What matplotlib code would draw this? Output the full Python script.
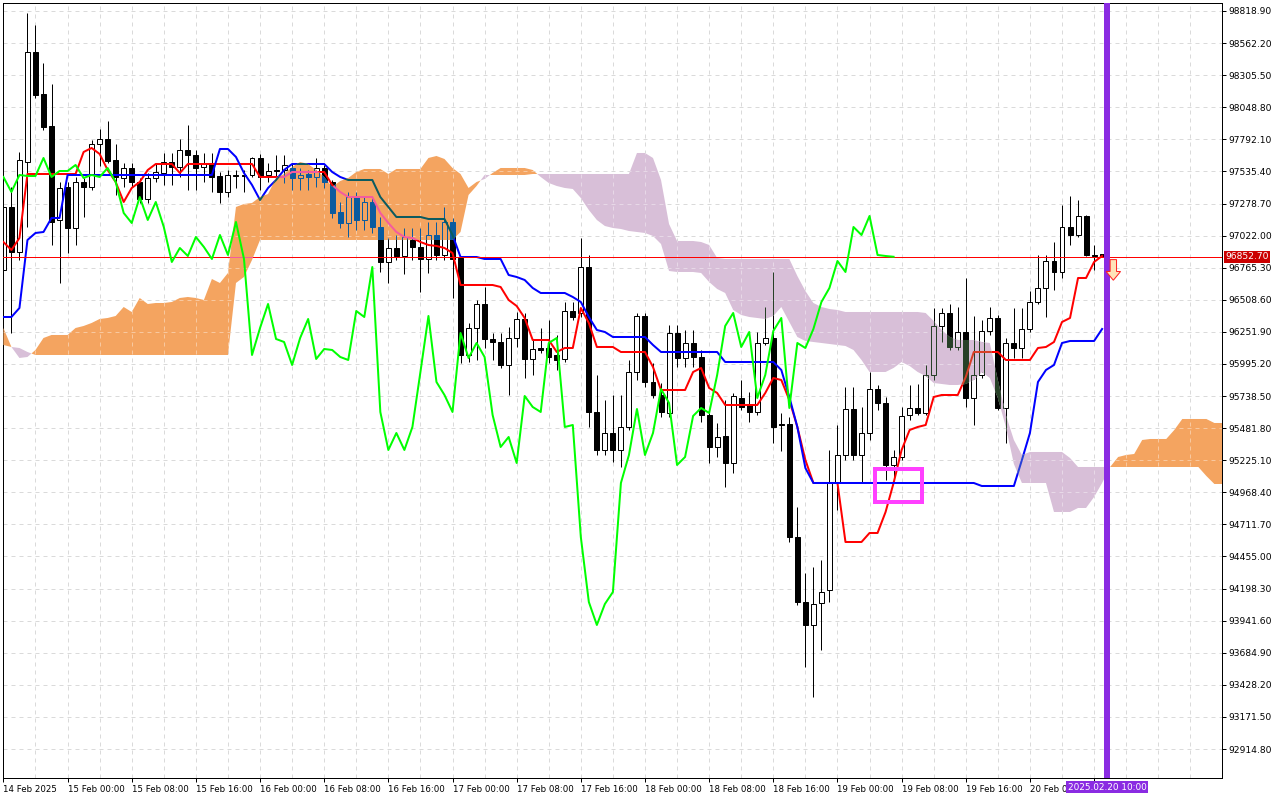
import numpy as np
import matplotlib
matplotlib.use("Agg")
import matplotlib.pyplot as plt
from matplotlib.colors import to_hex
from matplotlib.path import Path
from matplotlib.patches import Rectangle, Polygon

# BTCUSD H1, bar 0 = 14 Feb 2025 16:00 ... bar 137 = 20 Feb 2025 09:00
opens = [
    96747, 97251, 96891, 97611, 98491, 98155, 97899, 97147, 97411, 97083,
    97451, 97411, 97755, 97795, 97627, 97483, 97563, 97451, 97315, 97483,
    97523, 97611, 97571, 97707, 97667, 97571, 97603, 97499, 97371, 97507,
    97507, 97507, 97643, 97507, 97547, 97547, 97563, 97483, 97515, 97491,
    97563, 97451, 97211, 97123, 97331, 97147, 97291, 97091, 96811, 96923,
    96859, 96987, 96931, 96835, 97027, 96867, 97131, 96843, 96067, 96283,
    96475, 96195, 96171, 95987, 96203, 96355, 96035, 96123, 96123, 96067,
    96035, 96419, 96403, 96771, 95611, 95307, 95443, 95307, 95491, 95931,
    96379, 95851, 95747, 95603, 96243, 96043, 96163, 96051, 95587, 95331,
    95419, 95203, 95723, 95667, 95611, 96163, 96203, 95515, 95515, 94611,
    94091, 93907, 94083, 94187, 95043, 95267, 95635, 95267, 95443, 95795,
    95683, 95187, 95251, 95587, 95643, 95603, 95907, 96299, 96403, 96131,
    96251, 95723, 95907, 96259, 96363, 95643, 96163, 96123, 96275, 96491,
    96603, 96819, 96731, 97091, 97027, 97179, 96867, 96875,
]
highs = [
    97347, 97411, 97691, 98803, 98707, 98403, 98235, 97451, 97451, 97491,
    97483, 97787, 97875, 97939, 97755, 97603, 97603, 97483, 97523, 97603,
    97683, 97683, 97795, 97907, 97707, 97683, 97683, 97531, 97547, 97547,
    97547, 97651, 97675, 97603, 97667, 97667, 97603, 97563, 97547, 97643,
    97587, 97467, 97291, 97371, 97371, 97331, 97323, 97171, 97003, 97027,
    97083, 97083, 97083, 97131, 97131, 97251, 97163, 96851, 96323, 96507,
    96611, 96243, 96243, 96291, 96411, 96403, 96187, 96283, 96347, 96227,
    96491, 96491, 97003, 96867, 95907, 95707, 95747, 95747, 96027, 96403,
    96403, 96003, 95843, 96307, 96307, 96267, 96267, 96107, 95603, 95523,
    95707, 95763, 95867, 95771, 96251, 96451, 96731, 95603, 95571, 94851,
    94323, 94371, 94427, 95307, 95507, 95811, 95811, 95651, 95931, 95827,
    95731, 95307, 95651, 95827, 95835, 95987, 96443, 96443, 96475, 96451,
    96683, 96379, 96347, 96451, 96387, 96203, 96443, 96443, 96579, 96867,
    96867, 96971, 97267, 97339, 97307, 97187, 96947, 96875,
]
lows = [
    96587, 96243, 96827, 97091, 98123, 97867, 96947, 96643, 96883, 96947,
    97171, 97387, 97579, 97603, 97347, 97411, 97411, 97283, 97283, 97451,
    97427, 97427, 97491, 97387, 97387, 97451, 97371, 97283, 97331, 97403,
    97371, 97491, 97387, 97451, 97491, 97443, 97387, 97387, 97387, 97411,
    97403, 97163, 97083, 97011, 97067, 97067, 97043, 96731, 96643, 96827,
    96715, 96827, 96571, 96723, 96827, 96827, 96523, 96003, 96011, 96027,
    96123, 96027, 95963, 95747, 96131, 95883, 95907, 96083, 96003, 95947,
    96011, 96347, 96371, 95491, 95267, 95267, 95211, 95171, 95467, 95867,
    95811, 95723, 95571, 95571, 95971, 95971, 95971, 95531, 95203, 95251,
    95011, 95123, 95627, 95531, 95587, 96147, 95363, 95299, 94571, 94067,
    93571, 93331, 93707, 94091, 94827, 95227, 95227, 95043, 95387, 95627,
    95067, 95067, 95227, 95547, 95587, 95587, 95867, 96171, 96107, 96107,
    95651, 95507, 95883, 96227, 95627, 95363, 96043, 96043, 96251, 96475,
    96371, 96587, 96683, 96947, 97011, 96859, 96747, 96851,
]
closes = [
    97251, 96891, 97627, 98491, 98147, 97891, 97131, 97403, 97083, 97451,
    97411, 97755, 97795, 97619, 97491, 97563, 97451, 97315, 97483, 97531,
    97611, 97571, 97707, 97667, 97563, 97603, 97491, 97371, 97507, 97499,
    97499, 97643, 97491, 97539, 97539, 97587, 97483, 97507, 97491, 97563,
    97451, 97203, 97123, 97331, 97147, 97291, 97091, 96811, 96923, 96859,
    97011, 96931, 96835, 97027, 96867, 97131, 96835, 96067, 96283, 96475,
    96195, 96171, 95987, 96203, 96355, 96035, 96115, 96107, 96051, 96027,
    96419, 96371, 96771, 95611, 95307, 95443, 95307, 95491, 95931, 96379,
    95851, 95747, 95611, 96243, 96043, 96163, 96051, 95587, 95331, 95411,
    95203, 95739, 95651, 95611, 96163, 96203, 95491, 95507, 94611, 94091,
    93907, 94075, 94171, 95043, 95267, 95635, 95267, 95443, 95795, 95683,
    95187, 95251, 95579, 95643, 95603, 95907, 96299, 96403, 96131, 96251,
    95723, 95907, 96259, 96363, 95643, 96163, 96123, 96275, 96491, 96603,
    96819, 96731, 97091, 97027, 97179, 96867, 96859, 96852.70,
]
last_price = 96852.70

# Ichimoku Kinko Hyo (9, 26, 52) as the terminal drew it
tenkan = [
    96971, 96907, 97003, 97515, 97515, 97515, 97515, 97515, 97515, 97515,
    97691, 97723, 97675, 97547, 97451, 97291, 97403, 97451, 97547, 97595,
    97595, 97595, 97523, 97595, 97595, 97595, 97595, 97595, 97595, 97595,
    97595, 97595, 97491, 97491, 97491, 97491, 97531, 97531, 97531, 97531,
    97531, 97427, 97371, 97331, 97331, 97331, 97331, 97203, 97123, 97051,
    97011, 97003, 96971, 96947, 96939, 96923, 96883, 96627, 96627, 96627,
    96627, 96627, 96611, 96507, 96459, 96363, 96187, 96187, 96187, 96091,
    96123, 96123, 96443, 96323, 96131, 96131, 96131, 96091, 96091, 96091,
    96091, 95971, 95787, 95787, 95787, 95787, 95931, 95963, 95803, 95763,
    95667, 95667, 95667, 95667, 95667, 95763, 95883, 95867, 95707, 95491,
    95227, 95043, 95043, 95043, 95043, 94571, 94571, 94571, 94643, 94643,
    94811, 95043, 95307, 95467, 95491, 95507, 95731, 95747, 95747, 95747,
    95891, 96091, 96091, 96091, 96091, 96027, 96027, 96027, 96027, 96123,
    96131, 96171, 96331, 96363, 96683, 96683, 96811, 96859,
]
kijun = [
    96371, 96371, 96443, 96987, 97043, 97051, 97163, 97163, 97507, 97507,
    97507, 97507, 97507, 97507, 97507, 97507, 97507, 97507, 97507, 97507,
    97507, 97507, 97507, 97507, 97507, 97507, 97507, 97715, 97715, 97651,
    97523, 97427, 97307, 97403, 97467, 97547, 97595, 97595, 97595, 97595,
    97595, 97531, 97491, 97467, 97467, 97467, 97467, 97331, 97251, 97171,
    97171, 97171, 97171, 97155, 97155, 97155, 97027, 96851, 96851, 96851,
    96835, 96835, 96835, 96707, 96691, 96667, 96603, 96563, 96563, 96563,
    96563, 96531, 96491, 96371, 96267, 96251, 96211, 96211, 96211, 96211,
    96211, 96147, 96091, 96091, 96091, 96091, 96091, 96091, 96091, 96091,
    96011, 96011, 96011, 96011, 96011, 96011, 96011, 95947, 95731, 95491,
    95163, 95043, 95043, 95043, 95043, 95043, 95043, 95043, 95043, 95043,
    95043, 95043, 95043, 95043, 95043, 95043, 95043, 95043, 95043, 95043,
    95043, 95043, 95019, 95019, 95019, 95019, 95019, 95227, 95443, 95851,
    95947, 95987, 96163, 96179, 96179, 96179, 96179, 96275,
]
# senkou spans, already shifted 26 bars ahead (index 0..152)
span_a = [
    96283, 96131, 96043, 96051, 96107, 96203, 96227, 96227, 96227, 96283,
    96299, 96323, 96355, 96363, 96379, 96451, 96411, 96523, 96475, 96483,
    96483, 96491, 96523, 96531, 96523, 96507, 96675, 96643, 96723, 97251,
    97275, 97283, 97331, 97355, 97483, 97515, 97571, 97611, 97595, 97547,
    97491, 97411, 97459, 97483, 97531, 97555, 97555, 97555, 97515, 97555,
    97555, 97555, 97555, 97643, 97659, 97635, 97563, 97515, 97403, 97451,
    97475, 97523, 97563, 97563, 97563, 97563, 97547, 97491, 97443, 97419,
    97403, 97395, 97323, 97227, 97147, 97099, 97083, 97075, 97059, 97051,
    97043, 97019, 96955, 96739, 96731, 96731, 96731, 96723, 96651, 96595,
    96563, 96427, 96387, 96371, 96363, 96355, 96379, 96451, 96331, 96211,
    96179, 96171, 96163, 96155, 96147, 96139, 96107, 96027, 95931, 95931,
    95931, 95963, 96011, 95979, 95931, 95899, 95843, 95835, 95827, 95827,
    95835, 95867, 95931, 95883, 95723, 95491, 95195, 95043, 95043, 95043,
    95043, 94811, 94811, 94811, 94843, 94843, 94931, 95043, 95171, 95251,
    95267, 95275, 95387, 95395, 95395, 95395, 95467, 95555, 95555, 95555,
    95555, 95523, 95523,
]
span_b = [
    96147, 96131, 96123, 96091, 96067, 96067, 96067, 96067, 96067, 96067,
    96067, 96067, 96067, 96067, 96067, 96067, 96067, 96067, 96067, 96067,
    96067, 96067, 96067, 96067, 96067, 96067, 96067, 96067, 96067, 96643,
    96691, 96827, 96987, 96987, 96987, 96987, 96987, 96987, 96987, 96987,
    96987, 96987, 96987, 96987, 96987, 96987, 96987, 96987, 96987, 96987,
    96987, 96987, 96987, 96987, 96987, 96987, 96987, 97051, 97347, 97419,
    97507, 97507, 97507, 97507, 97507, 97507, 97515, 97515, 97515, 97515,
    97515, 97515, 97515, 97515, 97515, 97515, 97515, 97515, 97515, 97683,
    97683, 97643, 97467, 97115, 96979, 96979, 96979, 96971, 96947, 96843,
    96835, 96835, 96835, 96835, 96835, 96835, 96835, 96835, 96835, 96699,
    96579, 96483, 96451, 96435, 96427, 96411, 96411, 96411, 96411, 96411,
    96411, 96411, 96411, 96411, 96411, 96403, 96339, 96267, 96211, 96187,
    96187, 96187, 96171, 96163, 95867, 95587, 95387, 95267, 95291, 95291,
    95291, 95291, 95291, 95243, 95171, 95171, 95171, 95171, 95171, 95171,
    95171, 95171, 95171, 95171, 95171, 95171, 95171, 95171, 95171, 95171,
    95099, 95035, 95035,
]
chikou_shift = 26

price_ticks = [
    98818.90, 98562.20, 98305.50, 98048.80, 97792.10, 97535.40, 97278.70,
    97022.00, 96765.30, 96508.60, 96251.90, 95995.20, 95738.50, 95481.80,
    95225.10, 94968.40, 94711.70, 94455.00, 94198.30, 93941.60, 93684.90,
    93428.20, 93171.50, 92914.80,
]
time_tick_idx = [0, 8, 16, 24, 32, 40, 48, 56, 64, 72, 80, 88, 96, 104, 112, 120, 128, 136]
# the label of the last tick is hidden by the time-marker tag in the terminal
time_tick_labels = [
    "14 Feb 2025", "15 Feb 00:00", "15 Feb 08:00", "15 Feb 16:00", "16 Feb 00:00",
    "16 Feb 08:00", "16 Feb 16:00", "17 Feb 00:00", "17 Feb 08:00", "17 Feb 16:00",
    "18 Feb 00:00", "18 Feb 08:00", "18 Feb 16:00", "19 Feb 00:00", "19 Feb 08:00",
    "19 Feb 16:00", "20 Feb 00:00", "",
]

# chart objects
vline_idx = 137.6
vline_label = "2025.02.20 10:00"
signal_idx = 138.4
signal_top, signal_tip = 96830.0, 96665.0
box_idx = (108.7, 114.6)
box_price = (94891.0, 95155.0)

PX = 0.72  # one screen pixel in points (dpi 100)
ORANGE = "#F4A460"   # SandyBrown: span A above span B
THISTLE = "#D8BFD8"  # Thistle: span B above span A
GRID = "#DADADA"
X0, X1 = -0.05, 151.95
Y0, Y1 = 92682.9, 98882.9


def xor_colour(colour, cloud):
    # the kumo histogram is painted in XOR mode, so whatever lies under it is inverted
    mask = 0xFFFFFF ^ int(to_hex(cloud)[1:], 16)
    return "#%06X" % (int(to_hex(colour)[1:], 16) ^ mask)


fig = plt.figure(figsize=(12.8, 8), dpi=100)
ax = fig.add_axes([3 / 1280, 22 / 800, 1219 / 1280, 775 / 800])
ax.set_xlim(X0, X1)
ax.set_ylim(Y0, Y1)

x = np.arange(len(closes))
o = np.array(opens, dtype=float)
c = np.array(closes, dtype=float)
body_lo = np.minimum(o, c)
body_h = np.abs(c - o)
bull = c >= o
grid_x = np.arange(4, 153, 4)


def clip_all(arts, clip):
    if clip is not None:
        for a in arts:
            a.set_clip_path(clip, ax.transData)


def draw_grid(colour, z, clip=None, alpha=1.0):
    arts = [
        ax.vlines(grid_x, Y0, Y1, colors=colour, lw=PX, linestyles=(0, (4, 4)),
                  zorder=z, alpha=alpha),
        ax.hlines(price_ticks, X0, X1, colors=colour, lw=PX, linestyles=(0, (4, 4)),
                  zorder=z, alpha=alpha),
    ]
    clip_all(arts, clip)


def draw_candles(edge, up_fill, down_fill, z, clip=None):
    arts = [ax.vlines(x, lows, highs, colors=edge, lw=PX, zorder=z)]
    fills = [up_fill if b else down_fill for b in bull]
    bars = ax.bar(x, body_h, 0.62, body_lo, color=fills, edgecolor=edge, lw=PX, zorder=z + 0.1)
    arts.extend(bars.patches)
    clip_all(arts, clip)


def draw_lines(recolour, z, clip=None):
    arts = []
    arts += ax.plot(x, tenkan, color=recolour("#FF0000"), lw=2 * PX, zorder=z)
    arts += ax.plot(x, kijun, color=recolour("#0000FF"), lw=2 * PX, zorder=z)
    clip_all(arts, clip)


# plain layer
draw_grid(GRID, 0)
draw_candles("black", "white", "black", 2)
draw_lines(lambda col: col, 3)

# kumo
xs = np.arange(len(span_a))
a = np.array(span_a, dtype=float)
b = np.array(span_b, dtype=float)
bull_kumo = ax.fill_between(xs, a, b, where=a >= b, interpolate=True, color=ORANGE, lw=0, zorder=4)
bear_kumo = ax.fill_between(xs, a, b, where=a <= b, interpolate=True, color=THISTLE, lw=0, zorder=4)

# inverted copies of everything that sits under the kumo
for kumo, colour in ((bull_kumo, ORANGE), (bear_kumo, THISTLE)):
    clip = Path.make_compound_path(*kumo.get_paths())
    rec = lambda col, cl=colour: xor_colour(col, cl)
    draw_grid("white", 4.5, clip, alpha=0.4)
    draw_candles(rec("#000000"), colour, rec("#000000"), 5, clip)
    draw_lines(rec, 5.5, clip)

# current bid line, inverted where it runs through the bullish kumo
ax.plot([X0, X1], [last_price, last_price], color="#FF0000", lw=PX, zorder=6)
bid_in_kumo = ax.plot([X0, X1], [last_price, last_price], color=xor_colour("#FF0000", ORANGE),
                      lw=PX, zorder=6.1)
clip_all(bid_in_kumo, Path.make_compound_path(*bull_kumo.get_paths()))

# chikou span is painted last, on top of the kumo
ax.plot(x[:-chikou_shift], closes[chikou_shift:], color="#00FF00", lw=2 * PX, zorder=7)

# objects
ax.add_patch(Rectangle((box_idx[0], box_price[0]), box_idx[1] - box_idx[0], box_price[1] - box_price[0],
                       fill=False, ec="#FF40FF", lw=4 * PX, zorder=8))
ax.axvline(vline_idx, color="#8A2BE2", lw=6 * PX, zorder=8)

shaft, head, head_len = 0.4, 0.9, 70
arrow = [
    (signal_idx - shaft, signal_top), (signal_idx + shaft, signal_top),
    (signal_idx + shaft, signal_tip + head_len), (signal_idx + head, signal_tip + head_len),
    (signal_idx, signal_tip), (signal_idx - head, signal_tip + head_len),
    (signal_idx - shaft, signal_tip + head_len),
]
ax.add_patch(Polygon(arrow, closed=True, fc="#FFE2B8", ec="#FF2020", lw=PX, zorder=9))

# axes, ticks, labels
for sp in ax.spines.values():
    sp.set_color("black")
    sp.set_linewidth(PX)
ax.yaxis.tick_right()
ax.set_yticks(price_ticks)
ax.set_yticklabels([f"{p:.2f}" for p in price_ticks])
ax.tick_params(axis="y", direction="out", length=3, width=PX, pad=1.5, labelsize=6.6)
ax.set_xticks(time_tick_idx)
ax.set_xticklabels(time_tick_labels, ha="left")
ax.tick_params(axis="x", direction="out", length=3, width=PX, pad=2, labelsize=6.2)

ax.annotate(f"{last_price:.2f}", xy=(1, last_price), xycoords=("axes fraction", "data"),
            xytext=(2.5, 0), textcoords="offset points", ha="left", va="center", fontsize=6.6,
            color="white", bbox=dict(boxstyle="square,pad=0.15", fc="#CC0000", ec="none"),
            annotation_clip=False, zorder=10)
ax.annotate(vline_label, xy=(vline_idx, 0), xycoords=("data", "axes fraction"),
            xytext=(0, -3.5), textcoords="offset points", ha="center", va="top", fontsize=6.4,
            color="white", bbox=dict(boxstyle="square,pad=0.18", fc="#8A2BE2", ec="none"),
            annotation_clip=False, zorder=10)

fig.savefig("out.png", dpi=100, facecolor="white")
